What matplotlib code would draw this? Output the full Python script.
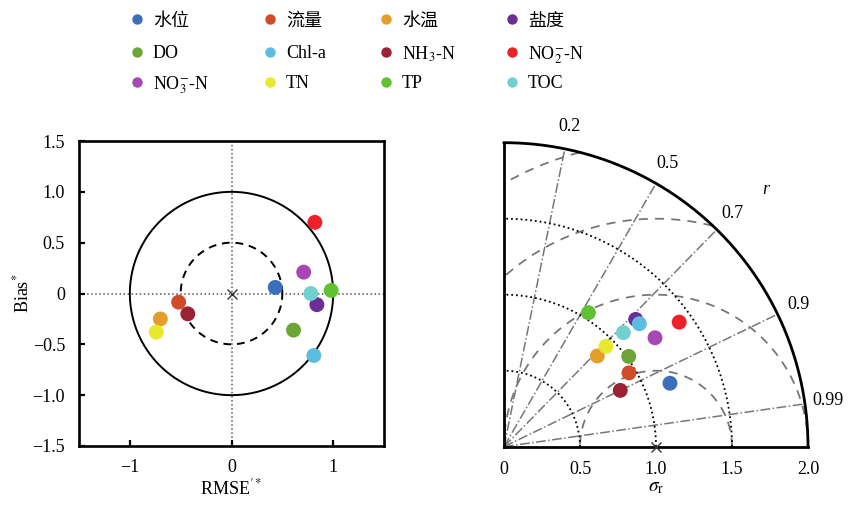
import numpy as np
import matplotlib.pyplot as plt

plt.rcParams['font.family'] = ['Liberation Serif', 'Noto Sans CJK SC']
plt.rcParams['mathtext.fontset'] = 'stix'
plt.rcParams['axes.unicode_minus'] = True

# variables
names = ['水位', '流量', '水温', '盐度', 'DO', 'Chl-a', r'NH$_3$-N', r'NO$_2^{-}$-N',
         r'NO$_3^{-}$-N', 'TN', 'TP', 'TOC']
colors = ['#3b6fba', '#d24b28', '#e39e2e', '#6c2e95', '#6ba535', '#5cbde2',
          '#9b2233', '#ee2128', '#a747b4', '#e8e82c', '#60c133', '#72d1d0']

# target diagram (normalised)
rmse_star = [0.43, -0.52, -0.70, 0.84, 0.61, 0.81, -0.43, 0.82, 0.71, -0.74, 0.98, 0.78]
bias_star = [0.06, -0.085, -0.25, -0.11, -0.36, -0.61, -0.20, 0.70, 0.21, -0.38, 0.03, 0.00]

# taylor diagram (normalised std and correlation)
sigma_r = [1.169, 0.955, 0.856, 1.205, 1.013, 1.203, 0.850, 1.414, 1.225, 0.941, 1.042, 1.086]
corr = [0.934, 0.861, 0.717, 0.719, 0.810, 0.740, 0.900, 0.815, 0.811, 0.713, 0.533, 0.723]

r_lines = [0.2, 0.5, 0.7, 0.9, 0.99]
std_arcs = [0.5, 1.0, 1.5]
rmse_arcs = [0.5, 1.0, 1.5, 2.0]
smax = 2.0

fig = plt.figure(figsize=(8.49, 5.05), dpi=100)

# ---- left: target diagram
ax1 = fig.add_axes([79/849, 59/505, 305/849, 305/505])
t = np.linspace(0, 2*np.pi, 400)
ax1.plot(np.cos(t), np.sin(t), '-', color='k', lw=1.4, zorder=2)
ax1.plot(0.5*np.cos(t), 0.5*np.sin(t), '--', color='k', lw=1.4, dashes=(4, 3), zorder=2)
ax1.axhline(0, color='#555555', ls=':', lw=1.1, zorder=1)
ax1.axvline(0, color='#555555', ls=':', lw=1.1, zorder=1)
ax1.plot(0, 0, 'x', color='#333333', ms=7, mew=1.0, zorder=3)
for xv, yv, c in zip(rmse_star, bias_star, colors):
    ax1.scatter(xv, yv, s=115, color=c, edgecolors='none', zorder=4)

ax1.set_xlim(-1.5, 1.5)
ax1.set_ylim(-1.5, 1.5)
ax1.set_aspect('equal')
ax1.set_xticks([-1, 0, 1])
ax1.set_xticklabels(['\u22121', '0', '1'])
yt = [-1.5, -1.0, -0.5, 0, 0.5, 1.0, 1.5]
ax1.set_yticks(yt)
ax1.set_yticklabels([('\u2212' if v < 0 else '') + ('0' if v == 0 else f'{abs(v):.1f}') for v in yt])
ax1.tick_params(direction='in', length=4, width=1.6, labelsize=13)
ax1.tick_params(axis='y', pad=10)
ax1.tick_params(axis='x', pad=9)
for sp in ax1.spines.values():
    sp.set_linewidth(1.9)
ax1.set_xlabel(r'RMSE$^{\prime *}$', fontsize=13, labelpad=2)
ax1.set_ylabel(r'Bias$^{*}$', fontsize=13, labelpad=0)

# ---- right: taylor diagram
ax2 = fig.add_axes([504/849, 58.3/505, 304/849, 304/505])
ax2.set_xlim(0, smax)
ax2.set_ylim(0, smax)
ax2.set_aspect('equal')
for sp in ax2.spines.values():
    sp.set_visible(False)

th = np.linspace(0, np.pi/2, 300)
# std arcs
for s in std_arcs:
    ax2.plot(s*np.cos(th), s*np.sin(th), ':', color='k', lw=1.3, zorder=2)
# centred rmse arcs around the reference point
ph = np.linspace(0, np.pi, 600)
for rr in rmse_arcs:
    xs = 1 + rr*np.cos(ph)
    ys = rr*np.sin(ph)
    keep = (xs**2 + ys**2 <= smax**2) & (xs >= 0)
    xs = np.where(keep, xs, np.nan)
    ys = np.where(keep, ys, np.nan)
    ax2.plot(xs, ys, '--', color='#777777', lw=1.3, dashes=(5, 4), zorder=1)
# correlation rays
for r in r_lines:
    a = np.arccos(r)
    ax2.plot([0, smax*np.cos(a)], [0, smax*np.sin(a)], '-.', color='#777777', lw=1.1, zorder=1)
    ax2.text(2.15*np.cos(a), 2.15*np.sin(a), f'{r:g}', fontsize=13, ha='center', va='center')
ax2.text(1.72, 1.69, 'r', fontsize=13, style='italic', ha='center', va='center')

# frame
ax2.plot(smax*np.cos(th), smax*np.sin(th), '-', color='k', lw=2.0, clip_on=False, zorder=5)
ax2.plot([0, 0], [0, smax], '-', color='k', lw=2.0, clip_on=False, zorder=5)
ax2.plot([0, smax], [0, 0], '-', color='k', lw=2.0, clip_on=False, zorder=5)
ax2.plot(1, 0, 'x', color='#333333', ms=7, mew=1.0, clip_on=False, zorder=6)

for s, r, c in zip(sigma_r, corr, colors):
    a = np.arccos(r)
    ax2.scatter(s*np.cos(a), s*np.sin(a), s=115, color=c, edgecolors='none', zorder=4)

ax2.set_xticks([0, 0.5, 1.0, 1.5, 2.0])
ax2.set_xticklabels(['0', '0.5', '1.0', '1.5', '2.0'])
ax2.set_yticks([])
ax2.tick_params(axis='x', length=0, labelsize=13, pad=10)
ax2.set_xlabel(r'$\sigma_{\rm r}$', fontsize=14, labelpad=1)

# ---- legend: 3 rows x 4 columns, filled row by row
leg = fig.add_axes([0, 0, 1, 1], zorder=-1)
leg.set_xlim(0, 849)
leg.set_ylim(505, 0)
leg.axis('off')
col_x = [137, 270, 386, 512]
row_y = [19, 52, 82]
for i, (name, c) in enumerate(zip(names, colors)):
    row, col = divmod(i, 4)
    leg.plot(col_x[col], row_y[row], 'o', ms=7.5, color=c, mec='none')
    leg.text(col_x[col] + 16, row_y[row], name, fontsize=13, ha='left', va='center_baseline')

fig.savefig('out.png', dpi=100)
